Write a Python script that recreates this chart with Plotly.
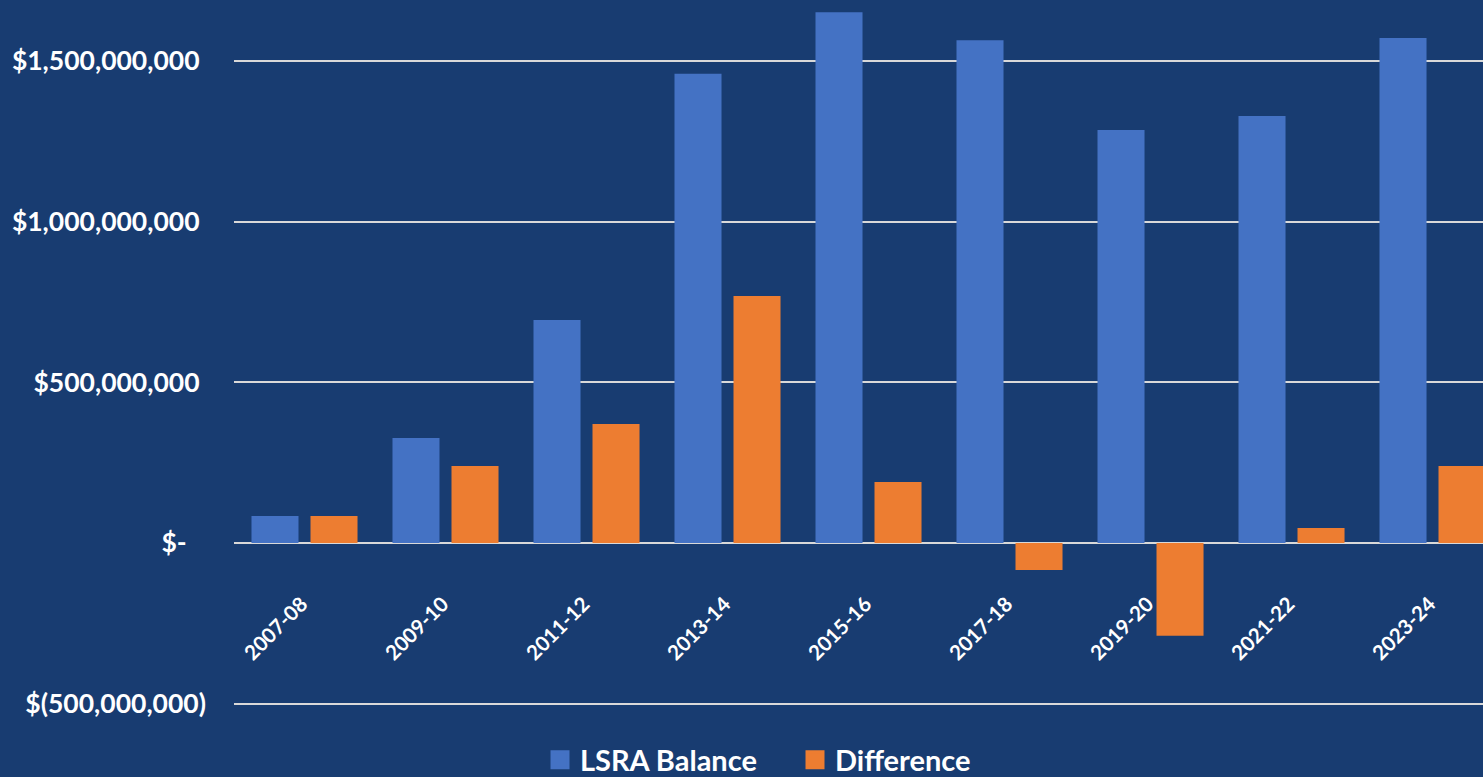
import plotly.graph_objects as go

categories = ["2007-08", "2009-10", "2011-12", "2013-14", "2015-16",
              "2017-18", "2019-20", "2021-22", "2023-24"]
lsra_balance = [84e6, 327e6, 694e6, 1460e6, 1652e6, 1565e6, 1285e6, 1329e6, 1572e6]
difference = [84e6, 240e6, 370e6, 769e6, 190e6, -84e6, -289e6, 47e6, 240e6]

tick_vals = [-5e8, 0, 5e8, 1e9, 1.5e9]
tick_text = ["$(500,000,000)", "$-\u00a0\u00a0\u00a0", "$500,000,000\u00a0",
             "$1,000,000,000\u00a0", "$1,500,000,000\u00a0"]

BG = "#183C71"
BLUE = "#4472C4"
ORANGE = "#ED7D31"
GRID = "#D9D9D9"
FONT = "Lato"

fig = go.Figure()
fig.add_trace(go.Bar(x=categories, y=lsra_balance, name="LSRA Balance",
                     marker=dict(color=BLUE, line=dict(width=0)), showlegend=False,
                     legendgroup="a"))
fig.add_trace(go.Bar(x=categories, y=difference, name="Difference",
                     marker=dict(color=ORANGE, line=dict(width=0)), showlegend=False,
                     legendgroup="b"))
# legend entries
fig.add_trace(go.Scatter(x=[None], y=[None], mode="markers", name="LSRA Balance",
                         legendgroup="a",
                         marker=dict(symbol="square", size=16, color=BLUE,
                                     line=dict(width=3, color=BLUE))))
fig.add_trace(go.Scatter(x=[None], y=[None], mode="markers", name="Difference",
                         legendgroup="b",
                         marker=dict(symbol="square", size=16, color=ORANGE,
                                     line=dict(width=3, color=ORANGE))))

for c in categories:
    fig.add_annotation(x=c, y=0, xref="x", yref="y", text=c, showarrow=False,
                       textangle=-45, xanchor="right", yanchor="top",
                       xshift=10, yshift=-46,
                       font=dict(family=FONT, size=20.5, color="white", weight="bold"))

fig.update_layout(
    width=1483, height=777,
    margin=dict(l=234, r=0, t=0, b=71, autoexpand=False),
    paper_bgcolor=BG, plot_bgcolor=BG,
    barmode="group", bargap=0.163, bargroupgap=0.203,
    font=dict(family=FONT, color="white"),
    legend=dict(orientation="h", x=0.245, xanchor="left",
                yref="container", y=(777 - 760) / 777, yanchor="middle",
                font=dict(family=FONT, size=29, color="white", weight="bold"),
                bgcolor="rgba(0,0,0,0)", entrywidth=210),
    xaxis=dict(type="category", range=[-0.5, 8.358], showticklabels=False,
               showgrid=False, zeroline=False, showline=False, ticks=""),
    yaxis=dict(range=[-507.3e6, 1689.9e6], tickvals=tick_vals, ticktext=tick_text,
               showgrid=True, gridcolor=GRID, gridwidth=2,
               zeroline=True, zerolinecolor=GRID, zerolinewidth=2,
               showline=False, ticks="", ticklabelstandoff=27,
               tickfont=dict(family=FONT, size=26.5, color="white", weight="bold")),
)

fig.write_html("out.html", config={"displayModeBar": False},
               post_script="document.body.style.margin='0';document.body.style.overflow='hidden';")
